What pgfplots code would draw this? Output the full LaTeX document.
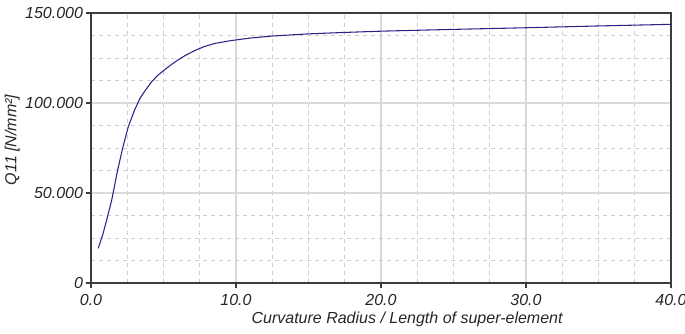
\documentclass[border=0pt]{standalone}
\usepackage{pgfplots}
\pgfplotsset{compat=1.18}
\usepackage{fontspec}
\setmainfont{Liberation Sans}
\definecolor{curve}{RGB}{45,35,135}
\definecolor{majgrid}{RGB}{218,218,218}
\definecolor{mingrid}{RGB}{205,205,205}
\definecolor{axisc}{RGB}{60,60,60}
\begin{document}
\begin{tikzpicture}
\useasboundingbox (-68.25pt,-38.25pt) rectangle (445.5pt,212.25pt);
\begin{axis}[
  scale only axis,
  width=435pt, height=202.5pt,
  xmin=0, xmax=40, ymin=0, ymax=150,
  axis line style={axisc, line width=1pt},
  xtick={0,10,20,30,40},
  xticklabels={\textit{0.0},\textit{10.0},\textit{20.0},\textit{30.0},\textit{40.0}},
  ytick={0,50,100,150},
  yticklabels={\textit{0},\textit{50.000},\textit{100.000},\textit{150.000}},
  minor xtick={2.5,5,7.5,12.5,15,17.5,22.5,25,27.5,32.5,35,37.5},
  minor ytick={12.5,25,37.5,62.5,75,87.5,112.5,125,137.5},
  grid=both,
  major grid style={majgrid, line width=1pt},
  minor grid style={mingrid, dashed, line width=0.6pt},
  tick align=outside,
  xtick pos=bottom, ytick pos=left,
  major tick length=4pt, minor tick length=0pt,
  tick style={axisc, line width=0.8pt},
  ticklabel style={font=\fontsize{12}{14}\selectfont\itshape, text=black!85},
  xticklabel style={yshift=-1pt},
  yticklabel style={xshift=1.5pt},
  xlabel={\itshape Curvature Radius / Length of super-element},
  ylabel={\itshape Q11 [N/mm²]},
  label style={font=\fontsize{12}{14}\selectfont, text=black!85},
  xlabel style={at={(axis description cs:0.545,0)}, anchor=center, yshift=-27.5pt},
  ylabel style={at={(axis description cs:-0.136,0.53)}, anchor=center},
  clip=false,
]
\addplot[curve, line width=0.8pt] coordinates {
(0.5,19.3) (0.8,26.5) (1.08,35) (1.43,46.1) (1.84,62.8) (2.2,75.5) (2.57,86.8)
(3.0,96) (3.38,102.6) (3.7,106.5) (4.18,111.8) (4.6,115.3) (5.1,118.6)
(5.6,121.7) (6.0,123.9) (6.5,126.4) (7.17,129.2) (7.8,131.3) (8.55,133.1)
(9.6,134.6) (11,136.1) (12.5,137.2) (15,138.4) (17.5,139.2) (20,139.9)
(25,140.9) (30,141.8) (35,142.8) (40,143.7)
};
\end{axis}
\end{tikzpicture}
\end{document}
